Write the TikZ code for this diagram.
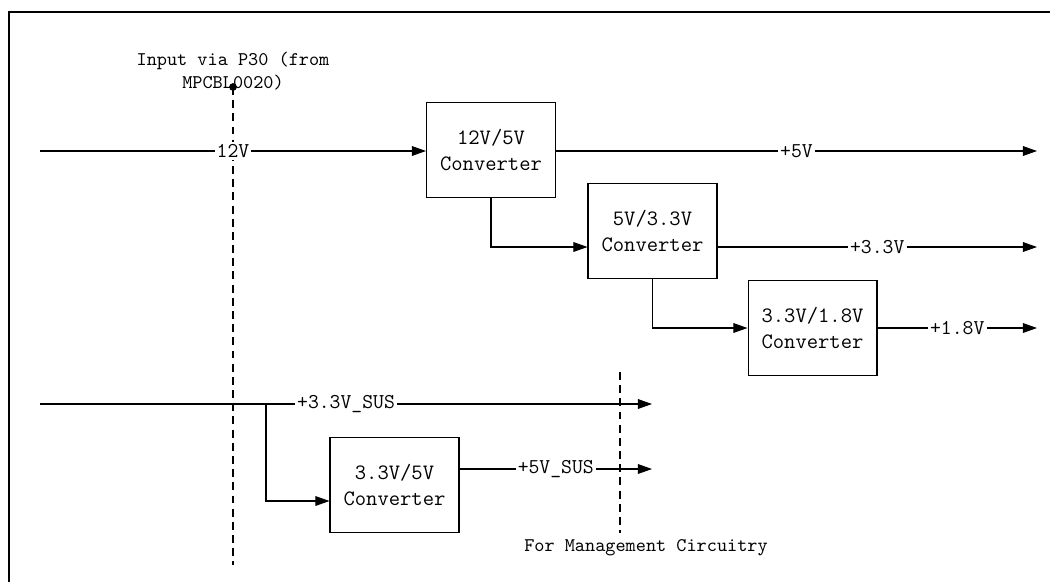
\documentclass[tikz,border=0pt]{standalone}
\usepackage{fontspec}
\newfontfamily\labelfont{Latin Modern Mono}
\usetikzlibrary{positioning,arrows.meta,calc}
\tikzset{
  box/.style={draw, line width=0.6pt, minimum width=2.58cm, minimum height=1.9cm,
              align=center, inner sep=2pt, font=\labelfont\fontsize{12.5}{15}\selectfont},
  arr/.style={-{Triangle[length=8pt,width=5.5pt]}, line width=0.6pt},
  wire/.style={line width=0.6pt},
  lbl/.style={fill=white, inner sep=1.2pt, font=\labelfont\fontsize{12}{13}\selectfont},
  note/.style={align=center, inner sep=0pt, font=\labelfont\fontsize{11}{13}\selectfont},
  cut/.style={line width=0.6pt, dash pattern=on 4.5pt off 3pt},
  frame/.style={line width=1.2pt},
}
\begin{document}
\begin{tikzpicture}[x=0.02cm, y=-0.02cm]
  \useasboundingbox (0,0) rectangle (1050,582);
  \draw[frame] (8,12) -- (1050,12);
  \draw[frame] (9,12) -- (9,582);

  % converter blocks
  \node[box] (c125)  at (491,150)   {12V/5V\\Converter};
  \node[box] (c533)  at (652.5,231) {5V/3.3V\\Converter};
  \node[box] (c318)  at (812.5,328) {3.3V/1.8V\\Converter};
  \node[box] (csus)  at (394.5,485) {3.3V/5V\\Converter};

  % free ends
  \coordinate (in12)  at (40,151);
  \coordinate (insus) at (40,404);
  \coordinate (out5)  at (1037,151);
  \coordinate (out33) at (1037,247);
  \coordinate (out18) at (1037,328);
  \coordinate (osus33) at (652,404);
  \coordinate (osus5)  at (652,469);
  \coordinate (tap)   at (266,404);

  % boundaries
  \coordinate (p30top) at (233,87);
  \coordinate (p30bot) at (233,565);
  \draw[cut] (p30top) -- (p30bot);
  \fill (p30top) circle (2.2pt);
  \node[note] (p30) at (233,71) {Input via P30 (from\\MPCBL0020)};
  \coordinate (mgtop) at (620,372);
  \coordinate (mgbot) at (620,533);
  \draw[cut] (mgtop) -- (mgbot);
  \node[note] (mg) at (646,548) {For Management Circuitry};

  % main rails
  \draw[arr] (in12) -- node[lbl] {12V} (in12 -| c125.west);
  \draw[arr] (c125.east |- out5) -- node[lbl] {+5V} (out5);
  \draw[arr] (c125.south) |- ($(c533.west)+(0,16)$);
  \draw[arr] ($(c533.east)+(0,16)$) -- node[lbl] {+3.3V} (out33);
  \draw[arr] (c533.south) |- (c318.west);
  \draw[arr] (c318.east) -- node[lbl] {+1.8V} (out18);

  % standby rails
  \draw[arr] (insus) -- node[lbl] {+3.3V\_SUS} (osus33);
  \draw[arr] (tap) |- ($(csus.west)+(0,16)$);
  \draw[arr] ($(csus.east)+(0,-16)$) -- node[lbl] {+5V\_SUS} (osus5);
\end{tikzpicture}
\end{document}
